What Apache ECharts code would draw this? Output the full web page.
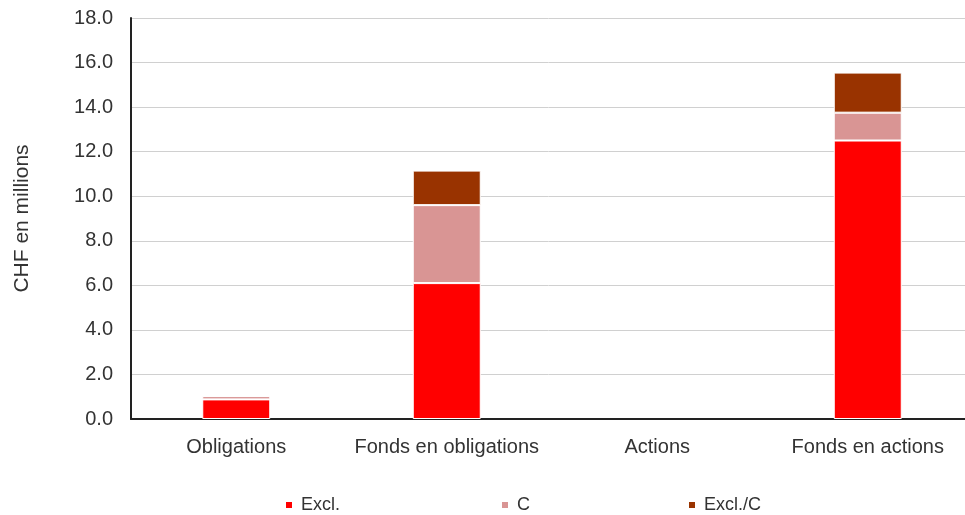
<!DOCTYPE html>
<html><head><meta charset="utf-8">
<script src="https://cdn.jsdelivr.net/npm/echarts@6/dist/echarts.min.js"></script>
<style>html,body{margin:0;padding:0;background:#fff}#c{width:965px;height:515px}</style>
</head><body><div id="c"></div>
<script>
const categories = ['Obligations', 'Fonds en obligations', 'Actions', 'Fonds en actions'];
const excl = [0.88, 6.1, null, 12.5];
const cVals = [0.15, 3.5, null, 1.25];
const exclC = [0.02, 1.55, null, 1.8];
const seriesNames = ['Excl.', 'C', 'Excl./C'];
const colors = ['#FF0000', '#D99594', '#993300'];

const chart = echarts.init(document.getElementById('c'));
const font = 'Liberation Sans, Arial, sans-serif';
const mk = (name, data, color) => ({
  name, type: 'bar', stack: 'a', data, barWidth: 68,
  itemStyle: { color, borderColor: '#fff', borderWidth: 1 },
  emphasis: { disabled: true }
});
const legendAt = (name, left) => ({
  data: [name], left, top: 496, padding: 0, itemWidth: 8, itemHeight: 8, icon: 'rect',
  textStyle: { fontFamily: font, fontSize: 18, color: '#333', padding: [0, 0, 0, 3] }
});
chart.setOption({
  animation: false,
  grid: { left: 131, width: 842, top: 18, height: 401, outerBoundsMode: 'none', containLabel: false },
  legend: [legendAt('Excl.', 284), legendAt('C', 500), legendAt('Excl./C', 687)],
  xAxis: {
    type: 'category', data: categories,
    axisLine: { lineStyle: { color: '#222', width: 2 } },
    axisTick: { show: false },
    axisLabel: { fontFamily: font, fontSize: 20, color: '#333', margin: 18, interval: 0, hideOverlap: false }
  },
  yAxis: {
    type: 'value', min: 0, max: 18, interval: 2,
    name: 'CHF en millions', nameLocation: 'middle', nameGap: 98, nameRotate: 90,
    nameTextStyle: { fontFamily: font, fontSize: 21, color: '#333' },
    axisLine: { show: true, lineStyle: { color: '#222', width: 2 } },
    axisTick: { show: false },
    axisLabel: { fontFamily: font, fontSize: 20, color: '#333', margin: 18,
      formatter: v => v.toFixed(1) },
    splitLine: { lineStyle: { color: '#d0d0d0', width: 1 } }
  },
  series: [
    mk(seriesNames[0], excl, colors[0]),
    mk(seriesNames[1], cVals, colors[1]),
    mk(seriesNames[2], exclC, colors[2])
  ]
});
</script></body></html>
